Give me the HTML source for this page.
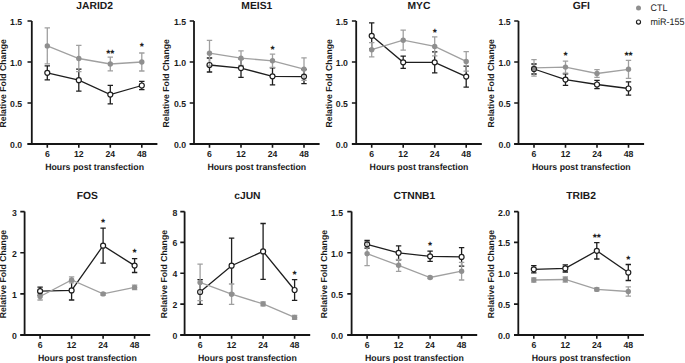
<!DOCTYPE html>
<html><head><meta charset="utf-8"><style>
html,body{margin:0;padding:0;background:#fff;}
svg{display:block;}
text{font-family:"Liberation Sans", sans-serif;fill:#1a1a1a;text-rendering:geometricPrecision;}
.t{font-size:10.3px;font-weight:bold;text-anchor:middle;}
.yl{font-size:8.7px;font-weight:bold;text-anchor:middle;}
.xl{font-size:9px;font-weight:bold;text-anchor:middle;}
.yt{font-size:8.7px;font-weight:bold;text-anchor:end;}
.xt{font-size:8.7px;font-weight:bold;text-anchor:middle;}
.st{font-size:10.5px;font-weight:bold;text-anchor:middle;}
.lg{font-size:9.5px;fill:#1a1a1a;}
.ax{fill:none;stroke:#161616;stroke-width:1.8;}
.tk{fill:none;stroke:#161616;stroke-width:1.6;}
.bl{fill:none;stroke:#1e1e1e;stroke-width:1.3;}
.be{fill:none;stroke:#1e1e1e;stroke-width:1.3;}
.bm{fill:#fff;stroke:none;}
.gl{fill:none;stroke:#a0a0a0;stroke-width:1.3;}
.ge{fill:none;stroke:#a0a0a0;stroke-width:1.3;}
.gm{fill:#8f8f8f;stroke:none;}
.br{fill:none;stroke:#1e1e1e;stroke-width:1.2;}
</style></head><body>
<svg width="685" height="363" viewBox="0 0 685 363">
<rect width="685" height="363" fill="#fff"/>
<g><text x="94.6" y="8.5" class="t">JARID2</text><text transform="translate(6.1,83.3) rotate(-90)" class="yl">Relative Fold Change</text><path d="M31.8 21V144M27.5 144H157.4" class="ax"/><path d="M27.5 144H31.8M27.5 103H31.8M27.5 62H31.8M27.5 21H31.8M47.3 144v3.8M78.8 144v3.8M110.3 144v3.8M141.8 144v3.8" class="tk"/><text x="22.2" y="147.9" class="yt">0.0</text><text x="22.2" y="106.9" class="yt">0.5</text><text x="22.2" y="65.9" class="yt">1.0</text><text x="22.2" y="24.9" class="yt">1.5</text><text x="47.3" y="156.9" class="xt">6</text><text x="78.8" y="156.9" class="xt">12</text><text x="110.3" y="156.9" class="xt">24</text><text x="141.8" y="156.9" class="xt">48</text><text x="94.6" y="169.8" class="xl" textLength="98.8" lengthAdjust="spacingAndGlyphs">Hours post transfection</text><path d="M47.3 72.8 L78.8 80.2 L110.3 94.6 L141.8 85.5" class="bl"/><path d="M47.3 65.8V79.8M44.6 65.8h5.4M44.6 79.8h5.4M78.8 69.2V91.2M76.1 69.2h5.4M76.1 91.2h5.4M110.3 85.3V103.9M107.6 85.3h5.4M107.6 103.9h5.4M141.8 81.3V89.7M139.1 81.3h5.4M139.1 89.7h5.4" class="be"/><circle cx="47.3" cy="72.8" r="2.5" class="bm"/><circle cx="78.8" cy="80.2" r="2.5" class="bm"/><circle cx="110.3" cy="94.6" r="2.5" class="bm"/><circle cx="141.8" cy="85.5" r="2.5" class="bm"/><path d="M47.3 45.9 L78.8 58.5 L110.3 64 L141.8 62" class="gl"/><path d="M47.3 27.9V63.9M44.6 27.9h5.4M44.6 63.9h5.4M78.8 45.3V71.7M76.1 45.3h5.4M76.1 71.7h5.4M110.3 57.2V70.8M107.6 57.2h5.4M107.6 70.8h5.4M141.8 53V71M139.1 53h5.4M139.1 71h5.4" class="ge"/><circle cx="47.3" cy="45.9" r="2.7" class="gm"/><circle cx="78.8" cy="58.5" r="2.7" class="gm"/><circle cx="110.3" cy="64" r="2.7" class="gm"/><circle cx="141.8" cy="62" r="2.7" class="gm"/><circle cx="47.3" cy="72.8" r="2.5" class="br"/><circle cx="78.8" cy="80.2" r="2.5" class="br"/><circle cx="110.3" cy="94.6" r="2.5" class="br"/><circle cx="141.8" cy="85.5" r="2.5" class="br"/><text x="110.3" y="56.6" class="st">**</text><text x="141.8" y="49.6" class="st">*</text></g><g><text x="256.8" y="8.5" class="t">MEIS1</text><text transform="translate(169.3,83.3) rotate(-90)" class="yl">Relative Fold Change</text><path d="M194 21V144M189.7 144H319.6" class="ax"/><path d="M189.7 144H194M189.7 103H194M189.7 62H194M189.7 21H194M209.5 144v3.8M241 144v3.8M272.5 144v3.8M304 144v3.8" class="tk"/><text x="186.1" y="147.9" class="yt">0.0</text><text x="186.1" y="106.9" class="yt">0.5</text><text x="186.1" y="65.9" class="yt">1.0</text><text x="186.1" y="24.9" class="yt">1.5</text><text x="209.5" y="156.9" class="xt">6</text><text x="241" y="156.9" class="xt">12</text><text x="272.5" y="156.9" class="xt">24</text><text x="304" y="156.9" class="xt">48</text><text x="256.8" y="169.8" class="xl" textLength="98.8" lengthAdjust="spacingAndGlyphs">Hours post transfection</text><path d="M209.5 65 L241 68.1 L272.5 76.3 L304 76.6" class="bl"/><path d="M209.5 58V72M206.8 58h5.4M206.8 72h5.4M241 58.8V77.4M238.3 58.8h5.4M238.3 77.4h5.4M272.5 67.8V84.8M269.8 67.8h5.4M269.8 84.8h5.4M304 69.5V83.7M301.3 69.5h5.4M301.3 83.7h5.4" class="be"/><circle cx="209.5" cy="65" r="2.5" class="bm"/><circle cx="241" cy="68.1" r="2.5" class="bm"/><circle cx="272.5" cy="76.3" r="2.5" class="bm"/><circle cx="304" cy="76.6" r="2.5" class="bm"/><path d="M209.5 53.2 L241 58.2 L272.5 60.8 L304 69.1" class="gl"/><path d="M209.5 40.4V66M206.8 40.4h5.4M206.8 66h5.4M241 50.9V65.5M238.3 50.9h5.4M238.3 65.5h5.4M272.5 54.2V67.4M269.8 54.2h5.4M269.8 67.4h5.4M304 57.8V80.4M301.3 57.8h5.4M301.3 80.4h5.4" class="ge"/><circle cx="209.5" cy="53.2" r="2.7" class="gm"/><circle cx="241" cy="58.2" r="2.7" class="gm"/><circle cx="272.5" cy="60.8" r="2.7" class="gm"/><circle cx="304" cy="69.1" r="2.7" class="gm"/><circle cx="209.5" cy="65" r="2.5" class="br"/><circle cx="241" cy="68.1" r="2.5" class="br"/><circle cx="272.5" cy="76.3" r="2.5" class="br"/><circle cx="304" cy="76.6" r="2.5" class="br"/><text x="272.5" y="53.4" class="st">*</text></g><g><text x="419" y="8.5" class="t">MYC</text><text transform="translate(331.6,83.3) rotate(-90)" class="yl">Relative Fold Change</text><path d="M356.2 21V144M351.9 144H481.8" class="ax"/><path d="M351.9 144H356.2M351.9 103H356.2M351.9 62H356.2M351.9 21H356.2M371.7 144v3.8M403.2 144v3.8M434.7 144v3.8M466.2 144v3.8" class="tk"/><text x="347.9" y="147.9" class="yt">0.0</text><text x="347.9" y="106.9" class="yt">0.5</text><text x="347.9" y="65.9" class="yt">1.0</text><text x="347.9" y="24.9" class="yt">1.5</text><text x="371.7" y="156.9" class="xt">6</text><text x="403.2" y="156.9" class="xt">12</text><text x="434.7" y="156.9" class="xt">24</text><text x="466.2" y="156.9" class="xt">48</text><text x="419" y="169.8" class="xl" textLength="98.8" lengthAdjust="spacingAndGlyphs">Hours post transfection</text><path d="M371.7 35.8 L403.2 62.3 L434.7 62.3 L466.2 76.6" class="bl"/><path d="M371.7 22.8V48.8M369 22.8h5.4M369 48.8h5.4M403.2 56.2V68.4M400.5 56.2h5.4M400.5 68.4h5.4M434.7 51.8V72.8M432 51.8h5.4M432 72.8h5.4M466.2 66.1V87.1M463.5 66.1h5.4M463.5 87.1h5.4" class="be"/><circle cx="371.7" cy="35.8" r="2.5" class="bm"/><circle cx="403.2" cy="62.3" r="2.5" class="bm"/><circle cx="434.7" cy="62.3" r="2.5" class="bm"/><circle cx="466.2" cy="76.6" r="2.5" class="bm"/><path d="M371.7 49.7 L403.2 40.2 L434.7 46.4 L466.2 61.4" class="gl"/><path d="M371.7 42.6V56.8M369 42.6h5.4M369 56.8h5.4M403.2 30.2V50.2M400.5 30.2h5.4M400.5 50.2h5.4M434.7 36.9V55.9M432 36.9h5.4M432 55.9h5.4M466.2 51.6V71.2M463.5 51.6h5.4M463.5 71.2h5.4" class="ge"/><circle cx="371.7" cy="49.7" r="2.7" class="gm"/><circle cx="403.2" cy="40.2" r="2.7" class="gm"/><circle cx="434.7" cy="46.4" r="2.7" class="gm"/><circle cx="466.2" cy="61.4" r="2.7" class="gm"/><circle cx="371.7" cy="35.8" r="2.5" class="br"/><circle cx="403.2" cy="62.3" r="2.5" class="br"/><circle cx="434.7" cy="62.3" r="2.5" class="br"/><circle cx="466.2" cy="76.6" r="2.5" class="br"/><text x="434.7" y="35.7" class="st">*</text></g><g><text x="581.3" y="8.5" class="t">GFI</text><text transform="translate(494.3,83.3) rotate(-90)" class="yl">Relative Fold Change</text><path d="M518.5 21V144M514.2 144H644.1" class="ax"/><path d="M514.2 144H518.5M514.2 103H518.5M514.2 62H518.5M514.2 21H518.5M534 144v3.8M565.5 144v3.8M597 144v3.8M628.5 144v3.8" class="tk"/><text x="510.7" y="147.9" class="yt">0.0</text><text x="510.7" y="106.9" class="yt">0.5</text><text x="510.7" y="65.9" class="yt">1.0</text><text x="510.7" y="24.9" class="yt">1.5</text><text x="534" y="156.9" class="xt">6</text><text x="565.5" y="156.9" class="xt">12</text><text x="597" y="156.9" class="xt">24</text><text x="628.5" y="156.9" class="xt">48</text><text x="581.3" y="169.8" class="xl" textLength="98.8" lengthAdjust="spacingAndGlyphs">Hours post transfection</text><path d="M534 69 L565.5 79.6 L597 84.5 L628.5 88.5" class="bl"/><path d="M534 64V74M531.3 64h5.4M531.3 74h5.4M565.5 73.8V85.4M562.8 73.8h5.4M562.8 85.4h5.4M597 80.3V88.7M594.3 80.3h5.4M594.3 88.7h5.4M628.5 81.9V95.1M625.8 81.9h5.4M625.8 95.1h5.4" class="be"/><circle cx="534" cy="69" r="2.5" class="bm"/><circle cx="565.5" cy="79.6" r="2.5" class="bm"/><circle cx="597" cy="84.5" r="2.5" class="bm"/><circle cx="628.5" cy="88.5" r="2.5" class="bm"/><path d="M534 67.9 L565.5 67.1 L597 73.5 L628.5 69.3" class="gl"/><path d="M534 59.6V76.2M531.3 59.6h5.4M531.3 76.2h5.4M565.5 61.1V73.1M562.8 61.1h5.4M562.8 73.1h5.4M597 69.6V77.4M594.3 69.6h5.4M594.3 77.4h5.4M628.5 60.3V78.3M625.8 60.3h5.4M625.8 78.3h5.4" class="ge"/><circle cx="534" cy="67.9" r="2.7" class="gm"/><circle cx="565.5" cy="67.1" r="2.7" class="gm"/><circle cx="597" cy="73.5" r="2.7" class="gm"/><circle cx="628.5" cy="69.3" r="2.7" class="gm"/><circle cx="534" cy="69" r="2.5" class="br"/><circle cx="565.5" cy="79.6" r="2.5" class="br"/><circle cx="597" cy="84.5" r="2.5" class="br"/><circle cx="628.5" cy="88.5" r="2.5" class="br"/><text x="565.5" y="59" class="st">*</text><text x="628.5" y="59" class="st">**</text></g><g><text x="87.4" y="199.1" class="t">FOS</text><text transform="translate(6,274.1) rotate(-90)" class="yl">Relative Fold Change</text><path d="M24.6 211.6V335M20.3 335H150.2" class="ax"/><path d="M20.3 335H24.6M20.3 293.9H24.6M20.3 252.7H24.6M20.3 211.6H24.6M40.1 335v3.8M71.6 335v3.8M103.1 335v3.8M134.6 335v3.8" class="tk"/><text x="16.8" y="338.9" class="yt">0</text><text x="16.8" y="297.8" class="yt">1</text><text x="16.8" y="256.6" class="yt">2</text><text x="16.8" y="215.5" class="yt">3</text><text x="40.1" y="347.9" class="xt">6</text><text x="71.6" y="347.9" class="xt">12</text><text x="103.1" y="347.9" class="xt">24</text><text x="134.6" y="347.9" class="xt">48</text><text x="87.4" y="360.8" class="xl" textLength="98.8" lengthAdjust="spacingAndGlyphs">Hours post transfection</text><path d="M40.1 291.2 L71.6 290.4 L103.1 245.7 L134.6 265.6" class="bl"/><path d="M40.1 287.2V295.2M37.4 287.2h5.4M37.4 295.2h5.4M71.6 280.8V300M68.9 280.8h5.4M68.9 300h5.4M103.1 228.2V263.2M100.4 228.2h5.4M100.4 263.2h5.4M134.6 258.7V272.5M131.9 258.7h5.4M131.9 272.5h5.4" class="be"/><circle cx="40.1" cy="291.2" r="2.5" class="bm"/><circle cx="71.6" cy="290.4" r="2.5" class="bm"/><circle cx="103.1" cy="245.7" r="2.5" class="bm"/><circle cx="134.6" cy="265.6" r="2.5" class="bm"/><path d="M40.1 296.5 L71.6 279.9 L103.1 293.9 L134.6 287.4" class="gl"/><path d="M40.1 293V300M37.4 293h5.4M37.4 300h5.4M71.6 276.9V282.9M68.9 276.9h5.4M68.9 282.9h5.4M103.1 292.7V295.1M100.4 292.7h5.4M100.4 295.1h5.4M134.6 285.1V289.7M131.9 285.1h5.4M131.9 289.7h5.4" class="ge"/><circle cx="40.1" cy="296.5" r="2.7" class="gm"/><circle cx="71.6" cy="279.9" r="2.7" class="gm"/><circle cx="103.1" cy="293.9" r="2.7" class="gm"/><circle cx="134.6" cy="287.4" r="2.7" class="gm"/><circle cx="40.1" cy="291.2" r="2.5" class="br"/><circle cx="71.6" cy="290.4" r="2.5" class="br"/><circle cx="103.1" cy="245.7" r="2.5" class="br"/><circle cx="134.6" cy="265.6" r="2.5" class="br"/><text x="103.1" y="225.9" class="st">*</text><text x="134.6" y="256.2" class="st">*</text></g><g><text x="247.4" y="199.1" class="t">cJUN</text><text transform="translate(167.1,274.1) rotate(-90)" class="yl">Relative Fold Change</text><path d="M184.6 211.6V335M180.3 335H310.2" class="ax"/><path d="M180.3 335H184.6M180.3 304.1H184.6M180.3 273.3H184.6M180.3 242.4H184.6M180.3 211.6H184.6M200.1 335v3.8M231.6 335v3.8M263.1 335v3.8M294.6 335v3.8" class="tk"/><text x="177.3" y="338.9" class="yt">0</text><text x="177.3" y="308" class="yt">2</text><text x="177.3" y="277.2" class="yt">4</text><text x="177.3" y="246.3" class="yt">6</text><text x="177.3" y="215.5" class="yt">8</text><text x="200.1" y="347.9" class="xt">6</text><text x="231.6" y="347.9" class="xt">12</text><text x="263.1" y="347.9" class="xt">24</text><text x="294.6" y="347.9" class="xt">48</text><text x="247.4" y="360.8" class="xl" textLength="98.8" lengthAdjust="spacingAndGlyphs">Hours post transfection</text><path d="M200.1 292 L231.6 265.7 L263.1 251.4 L294.6 290" class="bl"/><path d="M200.1 279.7V304.3M197.4 279.7h5.4M197.4 304.3h5.4M231.6 238.1V293.3M228.9 238.1h5.4M228.9 293.3h5.4M263.1 223.5V279.3M260.4 223.5h5.4M260.4 279.3h5.4M294.6 279.7V300.3M291.9 279.7h5.4M291.9 300.3h5.4" class="be"/><circle cx="200.1" cy="292" r="2.5" class="bm"/><circle cx="231.6" cy="265.7" r="2.5" class="bm"/><circle cx="263.1" cy="251.4" r="2.5" class="bm"/><circle cx="294.6" cy="290" r="2.5" class="bm"/><path d="M200.1 282.4 L231.6 294.2 L263.1 303.9 L294.6 317.4" class="gl"/><path d="M200.1 264.1V300.7M197.4 264.1h5.4M197.4 300.7h5.4M231.6 284V304.4M228.9 284h5.4M228.9 304.4h5.4M263.1 301.9V305.9M260.4 301.9h5.4M260.4 305.9h5.4M294.6 315.4V319.4M291.9 315.4h5.4M291.9 319.4h5.4" class="ge"/><circle cx="200.1" cy="282.4" r="2.7" class="gm"/><circle cx="231.6" cy="294.2" r="2.7" class="gm"/><circle cx="263.1" cy="303.9" r="2.7" class="gm"/><circle cx="294.6" cy="317.4" r="2.7" class="gm"/><circle cx="200.1" cy="292" r="2.5" class="br"/><circle cx="231.6" cy="265.7" r="2.5" class="br"/><circle cx="263.1" cy="251.4" r="2.5" class="br"/><circle cx="294.6" cy="290" r="2.5" class="br"/><text x="294.6" y="277.8" class="st">*</text></g><g><text x="414.4" y="199.1" class="t">CTNNB1</text><text transform="translate(326.6,274.1) rotate(-90)" class="yl">Relative Fold Change</text><path d="M351.6 211.6V335M347.3 335H477.2" class="ax"/><path d="M347.3 335H351.6M347.3 293.9H351.6M347.3 252.7H351.6M347.3 211.6H351.6M367.1 335v3.8M398.6 335v3.8M430.1 335v3.8M461.6 335v3.8" class="tk"/><text x="343" y="338.9" class="yt">0.0</text><text x="343" y="297.8" class="yt">0.5</text><text x="343" y="256.6" class="yt">1.0</text><text x="343" y="215.5" class="yt">1.5</text><text x="367.1" y="347.9" class="xt">6</text><text x="398.6" y="347.9" class="xt">12</text><text x="430.1" y="347.9" class="xt">24</text><text x="461.6" y="347.9" class="xt">48</text><text x="414.4" y="360.8" class="xl" textLength="98.8" lengthAdjust="spacingAndGlyphs">Hours post transfection</text><path d="M367.1 244.3 L398.6 252.8 L430.1 256.3 L461.6 256.9" class="bl"/><path d="M367.1 240.5V248.1M364.4 240.5h5.4M364.4 248.1h5.4M398.6 245.8V259.8M395.9 245.8h5.4M395.9 259.8h5.4M430.1 251.2V261.4M427.4 251.2h5.4M427.4 261.4h5.4M461.6 247.6V266.2M458.9 247.6h5.4M458.9 266.2h5.4" class="be"/><circle cx="367.1" cy="244.3" r="2.5" class="bm"/><circle cx="398.6" cy="252.8" r="2.5" class="bm"/><circle cx="430.1" cy="256.3" r="2.5" class="bm"/><circle cx="461.6" cy="256.9" r="2.5" class="bm"/><path d="M367.1 253.7 L398.6 265.3 L430.1 277.5 L461.6 271.2" class="gl"/><path d="M367.1 241.7V265.7M364.4 241.7h5.4M364.4 265.7h5.4M398.6 259.3V271.3M395.9 259.3h5.4M395.9 271.3h5.4M430.1 276.3V278.7M427.4 276.3h5.4M427.4 278.7h5.4M461.6 262.4V280M458.9 262.4h5.4M458.9 280h5.4" class="ge"/><circle cx="367.1" cy="253.7" r="2.7" class="gm"/><circle cx="398.6" cy="265.3" r="2.7" class="gm"/><circle cx="430.1" cy="277.5" r="2.7" class="gm"/><circle cx="461.6" cy="271.2" r="2.7" class="gm"/><circle cx="367.1" cy="244.3" r="2.5" class="br"/><circle cx="398.6" cy="252.8" r="2.5" class="br"/><circle cx="430.1" cy="256.3" r="2.5" class="br"/><circle cx="461.6" cy="256.9" r="2.5" class="br"/><text x="430.1" y="248.7" class="st">*</text></g><g><text x="581.1" y="199.1" class="t">TRIB2</text><text transform="translate(494.3,274.1) rotate(-90)" class="yl">Relative Fold Change</text><path d="M518.3 211.6V335M514 335H643.9" class="ax"/><path d="M514 335H518.3M514 304.1H518.3M514 273.3H518.3M514 242.4H518.3M514 211.6H518.3M533.8 335v3.8M565.3 335v3.8M596.8 335v3.8M628.3 335v3.8" class="tk"/><text x="510.2" y="338.9" class="yt">0.0</text><text x="510.2" y="308" class="yt">0.5</text><text x="510.2" y="277.2" class="yt">1.0</text><text x="510.2" y="246.3" class="yt">1.5</text><text x="510.2" y="215.5" class="yt">2.0</text><text x="533.8" y="347.9" class="xt">6</text><text x="565.3" y="347.9" class="xt">12</text><text x="596.8" y="347.9" class="xt">24</text><text x="628.3" y="347.9" class="xt">48</text><text x="581.1" y="360.8" class="xl" textLength="98.8" lengthAdjust="spacingAndGlyphs">Hours post transfection</text><path d="M533.8 269.3 L565.3 268.4 L596.8 250.8 L628.3 272.5" class="bl"/><path d="M533.8 265.7V272.9M531.1 265.7h5.4M531.1 272.9h5.4M565.3 264.8V272M562.6 264.8h5.4M562.6 272h5.4M596.8 242.6V259M594.1 242.6h5.4M594.1 259h5.4M628.3 264.5V280.5M625.6 264.5h5.4M625.6 280.5h5.4" class="be"/><circle cx="533.8" cy="269.3" r="2.5" class="bm"/><circle cx="565.3" cy="268.4" r="2.5" class="bm"/><circle cx="596.8" cy="250.8" r="2.5" class="bm"/><circle cx="628.3" cy="272.5" r="2.5" class="bm"/><path d="M533.8 280 L565.3 279.5 L596.8 289.4 L628.3 291.5" class="gl"/><path d="M533.8 277.8V282.2M531.1 277.8h5.4M531.1 282.2h5.4M565.3 277V282M562.6 277h5.4M562.6 282h5.4M596.8 287.9V290.9M594.1 287.9h5.4M594.1 290.9h5.4M628.3 286.9V296.1M625.6 286.9h5.4M625.6 296.1h5.4" class="ge"/><circle cx="533.8" cy="280" r="2.7" class="gm"/><circle cx="565.3" cy="279.5" r="2.7" class="gm"/><circle cx="596.8" cy="289.4" r="2.7" class="gm"/><circle cx="628.3" cy="291.5" r="2.7" class="gm"/><circle cx="533.8" cy="269.3" r="2.5" class="br"/><circle cx="565.3" cy="268.4" r="2.5" class="br"/><circle cx="596.8" cy="250.8" r="2.5" class="br"/><circle cx="628.3" cy="272.5" r="2.5" class="br"/><text x="596.8" y="240.7" class="st">**</text><text x="628.3" y="263.4" class="st">*</text></g>
<circle cx="638.5" cy="8" r="2.5" fill="#8f8f8f"/>
<circle cx="638.5" cy="22" r="2.05" fill="#fff" stroke="#1e1e1e" stroke-width="1.15"/>
<text x="650.6" y="11.1" class="lg" textLength="16.9" lengthAdjust="spacingAndGlyphs">CTL</text>
<text x="650.6" y="25.2" class="lg" textLength="33.9" lengthAdjust="spacingAndGlyphs">miR-155</text>
</svg>
</body></html>
